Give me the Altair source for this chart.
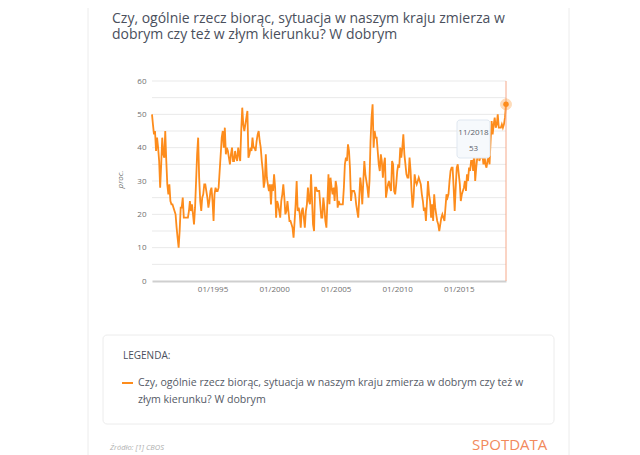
import pandas as pd
import altair as alt

title_lines = [
    "Czy, ogólnie rzecz biorąc, sytuacja w naszym kraju zmierza w",
    "dobrym czy też w złym kierunku? W dobrym",
]
legend_lines = [
    "Czy, ogólnie rzecz biorąc, sytuacja w naszym kraju zmierza w dobrym czy też w",
    "złym kierunku? W dobrym",
]
legend_header = "LEGENDA:"
source_text = "Źródło: [1] CBOS"
brand_text = "SPOTDATA"
axis_title = "proc."

first_month = "1990-02-01"

# monthly shares (%), Feb 1990 - Dec 1999
values_1990s = [
    50, 47, 44, 45, 39, 43, 40, 36, 28, 35, 43,
    38, 37, 45, 36, 29, 26, 29, 24, 23, 23, 22, 21,
    20, 16, 13, 10, 15, 22, 22, 25, 19, 19, 19, 19,
    19, 21, 24, 21, 23, 20, 17, 22, 30, 38, 43, 31,
    24, 21, 25, 26, 29, 29, 27, 25, 22, 24, 27, 28,
    24, 18, 26, 28, 27, 27, 28, 33, 38, 43, 45, 40,
    46, 38, 40, 39, 37, 35, 38, 40, 36, 36, 39, 37,
    36, 40, 38, 36, 45, 52, 47, 45, 47, 49, 51, 37,
    38, 40, 39, 43, 40, 40, 39, 42, 44, 45, 42, 40,
    36, 33, 28, 30, 38, 31, 29, 27, 29, 23, 29, 27,
]
# Jan 2000 - Dec 2009
values_2000s = [
    32, 28, 19, 24, 23, 21, 19, 24, 26, 29, 25, 20,
    21, 24, 21, 18, 18, 17, 16, 13, 18, 23, 30, 21,
    22, 20, 16, 21, 22, 19, 16, 21, 23, 28, 24, 23,
    32, 24, 17, 15, 28, 28, 27, 27, 27, 23, 19, 19,
    25, 22, 18, 16, 24, 32, 23, 31, 28, 26, 28, 24,
    30, 28, 22, 24, 23, 23, 23, 23, 28, 35, 37, 36,
    41, 39, 34, 24, 27, 27, 27, 26, 23, 21, 19, 25,
    31, 28, 23, 30, 36, 32, 30, 28, 25, 30, 42, 49,
    53, 40, 45, 43, 43, 39, 35, 33, 38, 36, 31, 35,
    37, 25, 27, 29, 30, 28, 27, 36, 35, 27, 26, 29,
]
# Jan 2010 - Nov 2018
values_2010s = [
    33, 35, 34, 40, 37, 40, 44, 38, 35, 32, 31, 31,
    37, 33, 27, 22, 25, 32, 30, 29, 30, 31, 30, 29,
    26, 24, 21, 22, 18, 24, 30, 26, 24, 19, 23, 18,
    26, 22, 20, 18, 17, 15, 17, 19, 20, 19, 18, 22,
    26, 25, 26, 30, 33, 34, 34, 28, 21, 28, 34, 35,
    32, 29, 24, 26, 27, 28, 30, 27, 32, 30, 34, 33,
    36, 36, 33, 39, 30, 34, 37, 41, 36, 37, 37, 38,
    35, 38, 35, 34, 36, 38, 35, 42, 48, 44, 47, 49,
    46, 47, 50, 46, 46, 46, 47, 46, 47, 49, 53,
]

x_ticks = ["1995-01-01", "2000-01-01", "2005-01-01", "2010-01-01", "2015-01-01"]
y_labels = [0, 10, 20, 30, 40, 50, 60]
y_grid = [5, 10, 15, 20, 25, 30, 35, 40, 45, 50, 55, 60]

values = values_1990s + values_2000s + values_2010s
dates = pd.date_range(first_month, periods=len(values), freq="MS")
data = pd.DataFrame({"date": dates.strftime("%Y-%m-%d"), "value": values})
last = data.iloc[[-1]]
tip_date = dates[-1].strftime("%m/%Y").lstrip("0")
tip_value = str(values[-1])

ORANGE = "#fd8c1c"
FONT = "Open Sans"

x_enc = alt.X(
    "date:T",
    title=None,
    scale=alt.Scale(type="utc", nice=False, padding=0),
    axis=alt.Axis(
        values=x_ticks, labelExpr="utcFormat(datum.value, '%m/%Y')", grid=False, ticks=False,
        domainColor="#cfcfcf", domainWidth=2, labelColor="#6f6f6f", labelFontSize=8,
        labelFont=FONT, labelPadding=4, labelOverlap=False,
    ),
)
y_enc = alt.Y(
    "value:Q",
    scale=alt.Scale(domain=[0, 60], nice=False),
    axis=alt.Axis(
        values=y_labels, labelOverlap=False, domain=False, ticks=False, grid=False,
        labelColor="#6f6f6f", labelFontSize=8, labelFont=FONT, labelPadding=6,
        title=axis_title, titleFontStyle="italic", titleFontWeight="normal",
        titleFontSize=8, titleColor="#6f6f6f", titleFont=FONT,
        titleX=-32, titleY=98, titleAngle=270, titleAlign="center", titleBaseline="middle",
    ),
)

grid = alt.Chart(pd.DataFrame({"value": y_grid})).mark_rule(color="#e9e9e9", strokeWidth=1).encode(
    y=y_enc, x=alt.value(0), x2=alt.value(354)
)

line = alt.Chart(data).mark_line(color=ORANGE, strokeWidth=1.8).encode(x=x_enc, y=y_enc)

crosshair = alt.Chart(last).mark_rule(color="#f6a98a", strokeWidth=1).encode(
    x=x_enc, y=alt.value(0), y2=alt.value(200)
)
halo = alt.Chart(last).mark_point(
    filled=True, color=ORANGE, opacity=0.3, size=120, stroke=ORANGE, strokeWidth=1
).encode(x=x_enc, y=y_enc)
dot = alt.Chart(last).mark_circle(color=ORANGE, opacity=1, size=30).encode(x=x_enc, y=y_enc)

tip_box = alt.Chart(last).mark_rect(
    fill="#f6f9fc", stroke="#dfe7f0", strokeWidth=1, cornerRadius=3
).encode(x=alt.value(305), x2=alt.value(338), y=alt.value(39), y2=alt.value(77))
tip_text = alt.Chart(pd.DataFrame({"t": [tip_date, tip_value], "row": [0, 16]})).mark_text(
    font=FONT, fontSize=8, color="#5a5f6b", align="center", baseline="middle"
).encode(x=alt.value(321.5), y=alt.value(52), yOffset=alt.YOffset("row:Q", scale=None), text="t:N")

# page frame, title, legend, footer
frame = alt.Chart(pd.DataFrame({"px": [-64, 417]})).mark_rule(color="#ececec", strokeWidth=1).encode(
    x=alt.X("px:Q", scale=None), y=alt.value(-81), y2=alt.value(374)
)
title = alt.Chart(pd.DataFrame({"t": title_lines, "row": [0, 15.5]})).mark_text(
    font=FONT, fontSize=14, color="#4a4f5c", align="left", baseline="alphabetic"
).encode(x=alt.value(-40), y=alt.value(-58), yOffset=alt.YOffset("row:Q", scale=None), text="t:N")

legend_box = alt.Chart(pd.DataFrame({"a": [0]})).mark_rect(
    fill="white", stroke="#ececec", strokeWidth=1, cornerRadius=4
).encode(x=alt.value(-49), x2=alt.value(402), y=alt.value(254), y2=alt.value(343))
legend_head = alt.Chart(pd.DataFrame({"t": [legend_header]})).mark_text(
    font=FONT, fontSize=10, color="#4a4f5c", align="left", baseline="middle"
).encode(x=alt.value(-29), y=alt.value(275), text="t:N")
legend_dash = alt.Chart(pd.DataFrame({"a": [0]})).mark_rule(color=ORANGE, strokeWidth=2).encode(
    x=alt.value(-30), x2=alt.value(-19), y=alt.value(302)
)
legend_text = alt.Chart(pd.DataFrame({"t": legend_lines, "row": [0, 17]})).mark_text(
    font=FONT, fontSize=10.6, color="#555a66", align="left", baseline="middle"
).encode(x=alt.value(-14), y=alt.value(302), yOffset=alt.YOffset("row:Q", scale=None), text="t:N")

source = alt.Chart(pd.DataFrame({"t": [source_text]})).mark_text(
    font=FONT, fontSize=7.5, fontStyle="italic", color="#b0b0b0", align="left", baseline="middle"
).encode(x=alt.value(-42), y=alt.value(367), text="t:N")
brand = alt.Chart(pd.DataFrame({"t": [brand_text]})).mark_text(
    font=FONT, fontSize=15, color="#f28a5c", align="left", baseline="middle"
).encode(x=alt.value(320), y=alt.value(364), text="t:N")

chart = alt.layer(
    frame, title, legend_box, legend_head, legend_dash, legend_text, source, brand,
    grid, line, crosshair, halo, dot, tip_box, tip_text,
).properties(
    width=354, height=200,
    autosize=alt.AutoSizeParams(type="none"),
    padding={"left": 144, "top": 73, "right": 126, "bottom": 174},
    background="white",
).configure_view(stroke=None)

chart.save("out.html", embed_options={"renderer": "svg", "actions": False})
